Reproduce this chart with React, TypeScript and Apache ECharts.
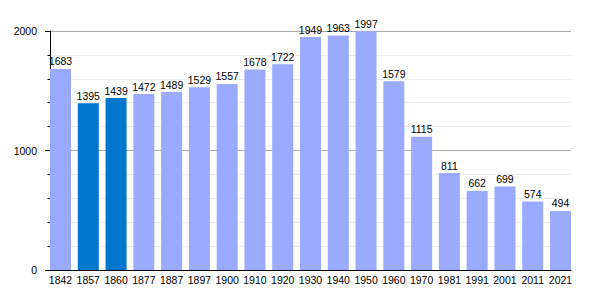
import React, { useEffect, useRef } from "react";
import * as echarts from "echarts";

const years = ["1842", "1857", "1860", "1877", "1887", "1897", "1900", "1910", "1920", "1930", "1940", "1950", "1960", "1970", "1981", "1991", "2001", "2011", "2021"];
const population = [1683, 1395, 1439, 1472, 1489, 1529, 1557, 1678, 1722, 1949, 1963, 1997, 1579, 1115, 811, 662, 699, 574, 494];
const highlightedYears = ["1857", "1860"];

const LIGHT = "#99aaff";
const DARK = "#0077cc";
const FONT = "'Liberation Sans', Arial, sans-serif";

export default function App() {
  const ref = useRef<HTMLDivElement>(null);
  useEffect(() => {
    if (!ref.current) return;
    const chart = echarts.init(ref.current, undefined, { renderer: "svg" });
    const plotLeft = 50;
    const plotRight = 571;
    const top = 31;
    const height = 239;
    const barW = 21;
    const catW = (plotRight - plotLeft - barW) / (years.length - 1);
    const offset = (catW - barW) / 2;
    chart.setOption({
      animation: false,
      backgroundColor: "#ffffff",
      textStyle: { fontFamily: FONT },
      grid: [
        { left: plotLeft, top, width: plotRight - plotLeft, height, containLabel: false },
        { left: plotLeft - offset, top, width: catW * years.length, height, containLabel: false },
      ],
      xAxis: [
        {
          gridIndex: 0,
          type: "value",
          min: 0,
          max: 1,
          axisLine: { show: true, lineStyle: { color: "#000", width: 1 } },
          axisTick: { show: false },
          axisLabel: { show: false },
          splitLine: { show: false },
        },
        {
          gridIndex: 1,
          type: "category",
          data: years,
          boundaryGap: true,
          axisLine: { show: false },
          axisTick: { show: false },
          axisLabel: { color: "#000", fontSize: 10.5, fontFamily: FONT, margin: 4, interval: 0 },
          splitLine: { show: false },
        },
      ],
      yAxis: [
        {
          gridIndex: 0,
          type: "value",
          min: 0,
          max: 2000,
          interval: 1000,
          axisLine: { show: true, lineStyle: { color: "#000", width: 1 } },
          axisTick: { show: true, length: 5, lineStyle: { color: "#000" } },
          minorTick: { show: true, splitNumber: 5, length: 2.5, lineStyle: { color: "#000" } },
          axisLabel: {
            color: "#000",
            fontSize: 10.5,
            fontFamily: FONT,
            margin: 13,
            formatter: (v: number) => String(v),
          },
          splitLine: { show: true, lineStyle: { color: "#aaaaaa", width: 1 } },
          minorSplitLine: { show: true, lineStyle: { color: "#ececec", width: 1 } },
        },
        {
          gridIndex: 1,
          type: "value",
          min: 0,
          max: 2000,
          show: false,
          splitLine: { show: false },
        },
      ],
      series: [
        {
          type: "bar",
          xAxisIndex: 1,
          yAxisIndex: 1,
          barWidth: barW,
          data: population.map((v, i) => ({
            value: v,
            itemStyle: { color: highlightedYears.includes(years[i]) ? DARK : LIGHT },
          })),
          label: {
            show: true,
            position: "top",
            distance: 2,
            color: "#000",
            fontSize: 10.5,
            fontFamily: FONT,
          },
        },
      ],
    });
    return () => chart.dispose();
  }, []);
  return <div ref={ref} style={{ width: 600, height: 300, position: "absolute", left: 0, top: 0 }} />;
}
